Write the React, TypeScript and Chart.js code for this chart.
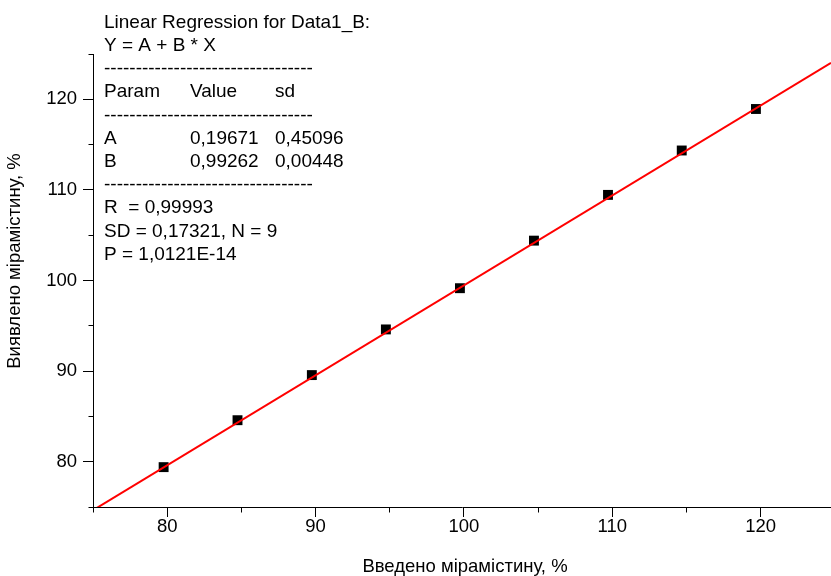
import React, { useEffect, useRef } from 'react';
import { Chart, registerables } from 'chart.js';

Chart.register(...registerables);

// ---- data ----
const xValues = [79.76, 84.74, 89.75, 94.74, 99.73, 104.72, 109.71, 114.68, 119.68];
const yValues = [79.4, 84.58, 89.56, 94.6, 99.15, 104.4, 109.45, 114.35, 118.93];
const fitA = 0.19671;
const fitB = 0.99262;
const xMajorTicks = [80, 90, 100, 110, 120];
const yMajorTicks = [80, 90, 100, 110, 120];
const xMinorTicks = [75, 85, 95, 105, 115];
const yMinorTicks = [75, 85, 95, 105, 115, 125];
const xRange = [75, 124.74];
const yRange = [75, 125];
const xTitle = 'Введено мірамістину, %';
const yTitle = 'Виявлено мірамістину, %';
const dashes = '---------------------------------';
const reportLines: string[][] = [
  ['Linear Regression for Data1_B:'],
  ['Y = A + B * X'],
  [dashes],
  ['Param', 'Value', 'sd'],
  [dashes],
  ['A', '0,19671', '0,45096'],
  ['B', '0,99262', '0,00448'],
  [dashes],
  ['R  = 0,99993'],
  ['SD = 0,17321, N = 9'],
  ['P = 1,0121E-14'],
];

const FONT = "'Liberation Sans', Arial, sans-serif";

const align = (v: number) => Math.round(v - 0.5) + 0.5;

const annotatePlugin = {
  id: 'annotate',
  afterDraw(chart: any) {
    const ctx = chart.ctx as CanvasRenderingContext2D;
    const xs = chart.scales.x;
    const ys = chart.scales.y;
    const area = chart.chartArea;
    ctx.save();
    // minor ticks
    ctx.strokeStyle = '#000';
    ctx.lineWidth = 1;
    ctx.beginPath();
    const by = align(area.bottom);
    xMinorTicks.forEach((v) => {
      const px = align(xs.getPixelForValue(v));
      ctx.moveTo(px, by);
      ctx.lineTo(px, by + 5);
    });
    const lx = align(area.left);
    yMinorTicks.forEach((v) => {
      const py = align(ys.getPixelForValue(v));
      ctx.moveTo(lx, py);
      ctx.lineTo(lx - 5, py);
    });
    ctx.stroke();
    // axis titles
    ctx.fillStyle = '#000';
    ctx.font = `18.5px ${FONT}`;
    ctx.textAlign = 'center';
    ctx.textBaseline = 'middle';
    ctx.fillText(xTitle, (area.left + area.right) / 2 + 3, 567);
    ctx.save();
    ctx.translate(15, 261);
    ctx.rotate(-Math.PI / 2);
    ctx.fillText(yTitle, 0, 0);
    ctx.restore();
    // regression report text
    ctx.font = `19px ${FONT}`;
    ctx.textBaseline = 'alphabetic';
    ctx.textAlign = 'left';
    const cols = [104, 190, 275];
    reportLines.forEach((row, i) => {
      const y = 27.7 + 23.2 * i;
      row.forEach((t, j) => ctx.fillText(t, cols[j], y));
    });
    ctx.restore();
  },
};

export default function App() {
  const ref = useRef<HTMLCanvasElement | null>(null);

  useEffect(() => {
    if (!ref.current) return;
    const points = xValues.map((x, i) => ({ x, y: yValues[i] }));
    const fitLine = xRange.map((x) => ({ x, y: fitA + fitB * x }));
    const chart = new Chart(ref.current, {
      type: 'scatter',
      data: {
        datasets: [
          {
            data: fitLine,
            showLine: true,
            borderColor: '#ff0000',
            borderWidth: 2,
            pointRadius: 0,
            order: 0,
          },
          {
            data: points,
            pointStyle: 'rect',
            pointRadius: 7,
            backgroundColor: '#000',
            borderColor: '#000',
            borderWidth: 0,
            order: 1,
          },
        ],
      },
      options: {
        responsive: false,
        animation: false,
        layout: { autoPadding: false, padding: { top: 54, left: 0, right: 0, bottom: 0 } },
        plugins: { legend: { display: false }, tooltip: { enabled: false } },
        scales: {
          x: {
            type: 'linear',
            position: 'bottom',
            min: xRange[0],
            max: xRange[1],
            afterBuildTicks: (s: any) => {
              s.ticks = xMajorTicks.map((v) => ({ value: v }));
            },
            afterFit: (s: any) => {
              s.height = 69;
              s.paddingLeft = 0;
              s.paddingRight = 0;
            },
            grid: { drawOnChartArea: false, drawTicks: true, tickLength: 10, tickColor: '#000', tickWidth: 1 },
            border: { display: true, color: '#000', width: 1 },
            ticks: {
              color: '#000',
              font: { family: FONT, size: 18.5, lineHeight: 1.07 },
              padding: 0,
              maxRotation: 0,
              autoSkip: false,
            },
            title: { display: false, text: xTitle },
          },
          y: {
            type: 'linear',
            position: 'left',
            min: yRange[0],
            max: yRange[1],
            afterBuildTicks: (s: any) => {
              s.ticks = yMajorTicks.map((v) => ({ value: v }));
            },
            afterFit: (s: any) => {
              s.width = 93;
              s.paddingTop = 0;
              s.paddingBottom = 0;
            },
            grid: { drawOnChartArea: false, drawTicks: true, tickLength: 10, tickColor: '#000', tickWidth: 1 },
            border: { display: true, color: '#000', width: 1 },
            ticks: {
              color: '#000',
              font: { family: FONT, size: 18.5 },
              padding: 6,
              autoSkip: false,
            },
            title: { display: false, text: yTitle },
          },
        },
      },
      plugins: [annotatePlugin],
    });
    return () => chart.destroy();
  }, []);

  return (
    <div style={{ position: 'fixed', left: 0, top: 0, width: 831, height: 576, background: '#fff' }}>
      <canvas ref={ref} width={831} height={576} style={{ display: 'block' }} />
    </div>
  );
}
